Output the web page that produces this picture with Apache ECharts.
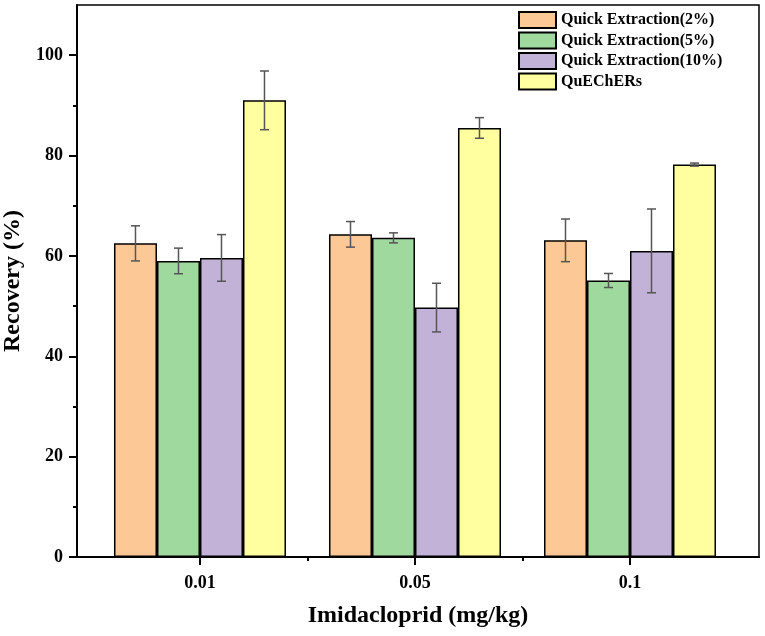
<!DOCTYPE html>
<html>
<head>
<meta charset="utf-8">
<script src="https://cdn.jsdelivr.net/npm/echarts@6/dist/echarts.min.js"></script>
<style>html,body{margin:0;padding:0;background:#fff;}#c{width:765px;height:636px;}</style>
</head>
<body>
<div id="c"></div>
<script>
const categories = ['0.01', '0.05', '0.1'];
const seriesNames = ['Quick Extraction(2%)', 'Quick Extraction(5%)', 'Quick Extraction(10%)', 'QuEChERs'];
const qe2 = [62.5, 64.3, 63.1];
const qe2Err = [3.5, 2.55, 4.25];
const qe5 = [59.0, 63.6, 55.1];
const qe5Err = [2.55, 1.0, 1.4];
const qe10 = [59.6, 49.7, 61.0];
const qe10Err = [4.65, 4.85, 8.35];
const quechers = [91.0, 85.5, 78.2];
const quechersErr = [5.85, 2.05, 0.3];
const yMajorTicks = [0, 20, 40, 60, 80, 100];
const yMinorTicks = [10, 30, 50, 70, 90];

const colors = ['#FCC896', '#A0D99D', '#C3B2D7', '#FFFFA0'];
const values = [qe2, qe5, qe10, quechers];
const errors = [qe2Err, qe5Err, qe10Err, quechersErr];
const BAR_W = 43;
const FONT = 'Liberation Serif';
const X_MIN = -0.572, X_MAX = 2.6;

const chart = echarts.init(document.getElementById('c'));
const series = [];
values.forEach((vals, si) => {
  series.push({
    name: seriesNames[si],
    type: 'bar',
    xAxisIndex: 0, yAxisIndex: 0,
    barWidth: BAR_W,
    barGap: '0%',
    itemStyle: { color: colors[si], borderColor: '#000', borderWidth: 1.5 },
    data: vals.map((v, i) => [i, v])
  });
});
values.forEach((vals, si) => {
  const offset = (si - 1.5) * BAR_W;
  series.push({
    name: seriesNames[si] + ' err',
    type: 'custom',
    xAxisIndex: 0, yAxisIndex: 0,
    z: 5,
    encode: { x: 0, y: 1 },
    data: vals.map((v, i) => [i, v, errors[si][i]]),
    renderItem: function (params, api) {
      const x = api.value(0), y = api.value(1), e = api.value(2);
      const top = api.coord([x, y + e]);
      const bot = api.coord([x, y - e]);
      const cx = top[0] + offset;
      const cap = 4.5;
      const st = { stroke: '#555', lineWidth: 1.5 };
      return {
        type: 'group',
        children: [
          { type: 'line', shape: { x1: cx, y1: top[1], x2: cx, y2: bot[1] }, style: st },
          { type: 'line', shape: { x1: cx - cap, y1: top[1], x2: cx + cap, y2: top[1] }, style: st },
          { type: 'line', shape: { x1: cx - cap, y1: bot[1], x2: cx + cap, y2: bot[1] }, style: st }
        ]
      };
    }
  });
});

chart.setOption({
  animation: false,
  backgroundColor: '#fff',
  grid: { left: 77, right: 6, top: 5, bottom: 79, containLabel: false, outerBoundsMode: 'none', show: true, borderColor: '#000', borderWidth: 1.5, backgroundColor: 'transparent' },
  legend: {
    data: seriesNames,
    orient: 'vertical',
    left: 513, top: 6,
    itemWidth: 37, itemHeight: 16, itemGap: 2.5,
    icon: 'rect',
    textStyle: { fontFamily: FONT, fontWeight: 'bold', fontSize: 16, color: '#000' }
  },
  xAxis: [{
    type: 'value', min: X_MIN, max: X_MAX,
    position: 'bottom',
    name: 'Imidacloprid (mg/kg)', nameLocation: 'middle', nameGap: 47,
    nameTextStyle: { fontFamily: FONT, fontWeight: 'bold', fontSize: 24, color: '#000' },
    splitLine: { show: false },
    axisLine: { show: true, onZero: false, lineStyle: { color: '#000', width: 2 } },
    axisTick: { show: true, customValues: [0, 1, 2], length: 8, lineStyle: { color: '#000', width: 2 } },
    axisLabel: { customValues: [0, 1, 2], formatter: v => categories[Math.round(v)], margin: 17, fontFamily: FONT, fontWeight: 'bold', fontSize: 18, color: '#000' }
  }, {
    type: 'value', min: X_MIN, max: X_MAX,
    position: 'bottom',
    splitLine: { show: false },
    axisLine: { show: false, onZero: false },
    axisTick: { show: true, customValues: [0.5, 1.5], length: 4, lineStyle: { color: '#000', width: 2 } },
    axisLabel: { show: false }
  }],
  yAxis: [{
    type: 'value', min: 0, max: 110,
    position: 'left',
    name: 'Recovery (%)', nameLocation: 'middle', nameGap: 47,
    nameTextStyle: { fontFamily: FONT, fontWeight: 'bold', fontSize: 24, color: '#000' },
    splitLine: { show: false },
    axisLine: { show: true, onZero: false, lineStyle: { color: '#000', width: 2 } },
    axisTick: { show: true, customValues: yMajorTicks, length: 8, lineStyle: { color: '#000', width: 2 } },
    axisLabel: { customValues: yMajorTicks, margin: 14, fontFamily: FONT, fontWeight: 'bold', fontSize: 18, color: '#000' }
  }, {
    type: 'value', min: 0, max: 110,
    position: 'left',
    splitLine: { show: false },
    axisLine: { show: false, onZero: false },
    axisTick: { show: true, customValues: yMinorTicks, length: 4, lineStyle: { color: '#000', width: 2 } },
    axisLabel: { show: false }
  }],
  series: series
});
</script>
</body>
</html>
